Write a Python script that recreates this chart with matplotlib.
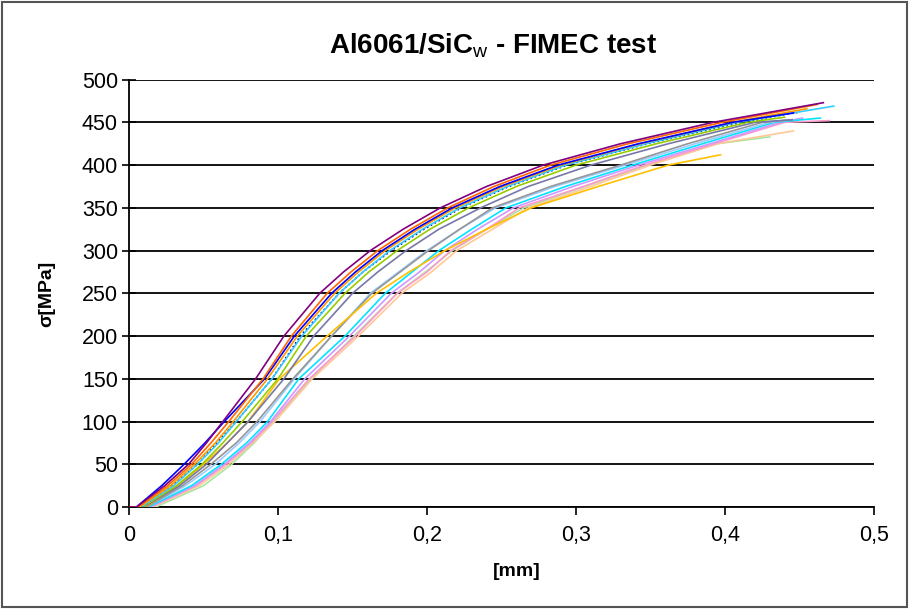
import numpy as np
import matplotlib.pyplot as plt
from matplotlib.patches import Rectangle

plt.rcParams['font.family'] = ['Liberation Sans', 'DejaVu Sans']
plt.rcParams['mathtext.fontset'] = 'custom'
plt.rcParams['mathtext.rm'] = 'Liberation Sans'

# stress levels (MPa) at which the displacement of each curve was read
s_pts = [0, 0, 25, 50, 75, 100, 150, 200, 250, 275, 300, 325, 350, 375, 400, 425, 450]

# displacement [mm] of each test at the stress levels above
purple = [0, .005, .024, .040, .052, .063, .085, .104, .128, .144, .162, .184, .209, .240, .278, .330, .392]
orange_red = [0, .006, .026, .042, .055, .067, .090, .109, .133, .149, .167, .189, .214, .245, .283, .335, .398]
blue = [0, .005, .022, .037, .051, .064, .091, .111, .136, .152, .170, .192, .217, .249, .288, .342, .405]
orange = [0, .007, .028, .044, .058, .070, .093, .113, .138, .154, .172, .194, .219, .251, .290, .343, .405]
cyan = [0, .008, .030, .046, .060, .072, .096, .116, .141, .157, .175, .197, .222, .254, .293, .347, .408]
navy = [0, .008, .029, .046, .059, .072, .096, .115, .141, .157, .176, .198, .223, .255, .294, .348, .410]
green = [0, .009, .032, .049, .063, .076, .100, .119, .145, .161, .180, .202, .228, .260, .300, .354, .415]
slate = [0, .010, .034, .052, .066, .080, .104, .124, .150, .167, .186, .208, .236, .268, .310, .362, .420]
gold = [0, .011, .033, .050, .066, .080, .101, .133, .166, .188, .212, .240, .270, .315, .362]
gray = [0, .012, .036, .055, .072, .086, .110, .136, .163, .182, .201, .222, .244, .283, .330, .375, .425]
light_blue = [0, .012, .038, .058, .074, .088, .111, .136, .162, .181, .200, .222, .246, .286, .333, .380, .430]
aqua = [0, .013, .042, .062, .079, .093, .114, .145, .172, .190, .208, .230, .253, .293, .338, .385, .433]
lavender = [0, .014, .044, .064, .081, .095, .118, .148, .176, .195, .212, .234, .258, .298, .342, .390, .437]
pink = [0, .015, .045, .065, .082, .096, .121, .152, .180, .200, .216, .240, .262, .305, .346, .393, .440]
peach = [0, .016, .047, .067, .083, .098, .123, .154, .183, .203, .220, .244, .268, .310, .350, .395]
light_green = [0, .018, .050, .069, .084, .097, .122, .151, .180, .199, .217, .240, .265, .306, .348, .395]

# (x, s) where each test stops
ends = {
    'purple': (0.466, 473), 'orange_red': (0.462, 471), 'blue': (0.446, 461),
    'orange': (0.455, 466), 'cyan': (0.473, 469), 'navy': (0.450, 462),
    'green': (0.440, 456), 'slate': (0.445, 453), 'gold': (0.397, 412),
    'gray': (0.445, 453), 'light_blue': (0.440, 452), 'aqua': (0.464, 455),
    'lavender': (0.452, 455), 'pink': (0.470, 452), 'peach': (0.446, 440),
    'light_green': (0.430, 433),
}

curves = [
    ('light_green', light_green, '#A8E6A0', '-'),
    ('peach', peach, '#FFC896', '-'),
    ('pink', pink, '#FF99CC', '-'),
    ('lavender', lavender, '#CC99FF', '-'),
    ('aqua', aqua, '#00E5FF', '-'),
    ('light_blue', light_blue, '#99CCFF', '-'),
    ('gray', gray, '#969696', '-'),
    ('gold', gold, '#FFC000', '-'),
    ('slate', slate, '#7777AA', '-'),
    ('green', green, '#99CC00', '-'),
    ('navy', navy, '#000080', ':'),
    ('cyan', cyan, '#33CCFF', '-'),
    ('orange', orange, '#FF9900', '-'),
    ('blue', blue, '#0000FF', '-'),
    ('orange_red', orange_red, '#FF6600', '-'),
    ('purple', purple, '#800080', '-'),
]

fig = plt.figure(figsize=(9.09, 6.09), dpi=100)
ax = fig.add_axes([129 / 909, 1 - 507 / 609, 745 / 909, 427.4 / 609])

for name, xs, col, ls in curves:
    ex, es = ends[name]
    x = np.array(xs + [ex])
    s = np.array(s_pts[:len(xs)] + [es])
    ax.plot(x, s, color=col, lw=1.2, ls=ls, zorder=3)

ax.set_xlim(0, 0.5)
ax.set_ylim(0, 500)
ax.set_xticks(np.arange(0, 0.51, 0.1))
ax.set_xticklabels(['0', '0,1', '0,2', '0,3', '0,4', '0,5'])
ax.set_yticks(np.arange(0, 501, 50))
ax.yaxis.grid(True, color='black', lw=1.3, zorder=1)
ax.set_axisbelow(True)
for side in ['top', 'right']:
    ax.spines[side].set_visible(False)
ax.spines['left'].set_linewidth(1.3)
ax.spines['bottom'].set_linewidth(1.3)
ax.tick_params(axis='y', direction='inout', length=10, width=1.2, labelsize=15.5, pad=3)
ax.tick_params(axis='x', direction='out', length=6, width=1.2, labelsize=15.5, pad=7)

fig.text(493 / 909, 1 - 46 / 609, 'Al6061/SiC$_\\mathrm{w}$ - FIMEC test', ha='center', va='center',
         fontsize=20, fontweight='bold')
fig.text(47 / 909, 1 - 294 / 609, 'σ[MPa]', rotation=90, ha='center', va='center',
         fontsize=14, fontweight='bold')
fig.text(517 / 909, 1 - 571 / 609, '[mm]', ha='center', va='center', fontsize=14, fontweight='bold')

fig.patches.append(Rectangle((0.002, 0.003), 0.996, 0.994, transform=fig.transFigure,
                             fill=False, edgecolor='#555555', lw=1.5))

fig.savefig('out.png', dpi=100)
